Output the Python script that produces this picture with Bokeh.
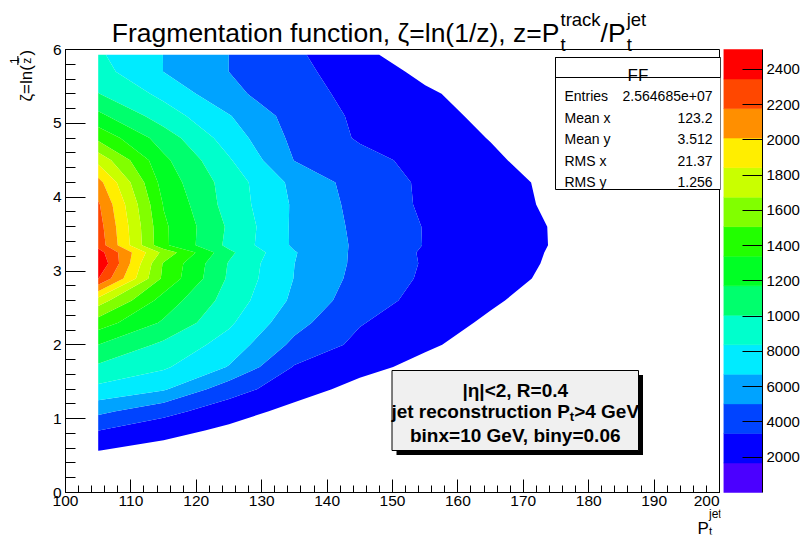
import math
import numpy as np
from bokeh.plotting import figure
from bokeh.layouts import row
from bokeh.models import (Label, BoxAnnotation, Range1d, SingleIntervalTicker, FixedTicker,
                          CustomLabelingPolicy)
from bokeh.embed import file_html
from bokeh.resources import INLINE

# ---------------- data ----------------
pt_centers = [105, 115, 125, 135, 145, 155, 165, 175, 185]
zeta_rows = [0.30, 0.57, 0.84, 1.10, 1.40, 1.70, 2.00, 2.30, 2.60, 2.90, 3.10,
             3.25, 3.35, 3.60, 3.90, 4.20, 4.50, 4.80, 5.10, 5.40, 5.70, 5.93]
ff_pt105 = [400, 1700, 3360, 5440, 7950, 9770, 11725, 14240, 17590, 23500, 25000,
            24200, 22800, 22500, 22000, 20700, 17900, 14650, 12150, 10100, 9000, 8600]
ff_pt115 = [300, 1000, 2320, 3880, 6880, 8600, 9700, 11500, 12700, 14700, 14900,
            16260, 13740, 13700, 13300, 12700, 12100, 10930, 9210, 7930, 6680, 6680]
ff_pt125 = [200, 600, 1300, 2460, 4060, 6610, 7680, 8650, 9350, 9790, 9930,
            10400, 9630, 9800, 9360, 9290, 8550, 7600, 6800, 5440, 5020, 5020]
ff_pt135 = [100, 300, 700, 1170, 2400, 3230, 4630, 5590, 6350, 6650, 6710,
            6800, 6440, 6410, 6470, 6260, 4980, 4610, 4330, 3970, 3780, 3630]
ff_pt145 = [0, 100, 300, 600, 1130, 2200, 2930, 3450, 4100, 4480, 4620,
            4630, 4730, 4640, 4450, 4290, 3880, 3170, 3060, 2870, 2540, 2130]
ff_pt155 = [0, 0, 100, 200, 500, 1170, 1930, 2410, 2830, 3110, 3200,
            3150, 3280, 3270, 3100, 3090, 2860, 2400, 2200, 1910, 1300, 600]
ff_pt165 = [0, 0, 0, 0, 100, 500, 950, 1420, 1880, 2230, 2330,
            2340, 2430, 2420, 2260, 2220, 1920, 1620, 1320, 970, 500, 200]
ff_pt175 = [0, 0, 0, 0, 0, 100, 300, 600, 950, 1350, 1470,
            1530, 1570, 1560, 1420, 1340, 980, 800, 500, 300, 100, 0]
ff_pt185 = [0, 0, 0, 0, 0, 0, 0, 100, 200, 500, 600,
            600, 650, 650, 550, 500, 300, 200, 100, 0, 0, 0]

contour_levels = [0, 1675, 3350, 5025, 6700, 8375, 10050, 11725, 13400, 15075,
                  16750, 18425, 20100, 21775, 23450, 25125]
band_colors = ["#4b00ff", "#0300ff", "#0044ff", "#00a3ff", "#00ebff", "#00ffcc",
               "#00ff6d", "#00ff25", "#22ff00", "#81ff00", "#c9ff00", "#ffee00",
               "#ff8f00", "#ff4700", "#ff0000"]
cbar_ticks = [2000, 4000, 6000, 8000, 10000, 12000, 14000, 16000, 18000, 20000, 22000, 24000]
cbar_tick_labels = ["2000", "4000", "6000", "8000", "1000", "1200", "1400", "1600",
                    "1800", "2000", "2200", "2400"]
x_tick_values = [100, 110, 120, 130, 140, 150, 160, 170, 180, 190, 200]
y_tick_values = [0, 1, 2, 3, 4, 5, 6]
stat_names = ["Entries", "Mean x", "Mean y", "RMS x", "RMS y"]
stat_values = ["2.564685e+07", "123.2", "3.512", "21.37", "1.256"]

FONT = "Liberation Sans"
TICK_FS = 15.5

# ---------------- geometry (page pixels -> data) ----------------
FL, FR, FT, FB = 65.0, 719.0, 49.0, 492.0      # visible plot frame in page pixels
MW, MH, MB = 722, 536, 2                        # main canvas size and its border


def X(px):
    return 100.0 + (px - FL) * 100.0 / (FR - FL)


def Y(py):
    return (FB - py) * 6.0 / (FB - FT)


W_REG = {' ': 278, ',': 278, '(': 333, ')': 333, '/': 278, '=': 584, '1': 556, 'F': 611,
         'r': 333, 'a': 556, 'g': 556, 'm': 833, 'e': 556, 'n': 556, 't': 278, 'i': 222,
         'o': 556, 'f': 278, 'u': 556, 'c': 500, 'l': 222, 'z': 500, 'P': 667, 'k': 500,
         'j': 222, '\u03b6': 450}
W_BOLD = {'j': 278, 'e': 556, 't': 333, ' ': 278, 'r': 389, 'c': 556, 'o': 611, 'n': 611,
          's': 556, 'u': 611, 'i': 278, 'P': 667, '>': 584, '4': 556, 'G': 778, 'V': 667}


def tw(s, size, bold=False):
    tab = W_BOLD if bold else W_REG
    return sum(tab.get(c, 556) for c in s) * size / 1000.0


p = figure(width=MW, height=MH,
           x_range=Range1d(X(MB), X(MW - MB)), y_range=Range1d(Y(MH - MB), Y(MB)),
           min_border_left=MB, min_border_right=MB, min_border_top=MB, min_border_bottom=MB,
           output_backend="svg", toolbar_location=None)
p.grid.visible = False
p.outline_line_color = None
p.background_fill_color = "white"
p.border_fill_color = "white"

no_labels = CustomLabelingPolicy(code="return new Set();")
p.xaxis.ticker = SingleIntervalTicker(interval=10, num_minor_ticks=5)
p.yaxis.ticker = SingleIntervalTicker(interval=1, num_minor_ticks=5)
p.xaxis.fixed_location = 0
p.xaxis.bounds = (100, 200)
p.yaxis.fixed_location = 100
p.yaxis.bounds = (0, 6)
for ax in (p.xaxis[0], p.yaxis[0]):
    ax.axis_line_color = "black"
    ax.major_tick_line_color = "black"
    ax.minor_tick_line_color = "black"
    ax.major_tick_out = 0
    ax.minor_tick_out = 0
    ax.major_label_policy = no_labels
    ax.major_label_text_font_size = "1px"
    ax.major_label_standoff = 0
p.xaxis.major_tick_in = 13
p.xaxis.minor_tick_in = 7
p.yaxis.major_tick_in = 20
p.yaxis.minor_tick_in = 10

# ---------------- filled contours ----------------
Z = np.array([ff_pt105, ff_pt115, ff_pt125, ff_pt135, ff_pt145, ff_pt155,
              ff_pt165, ff_pt175, ff_pt185], dtype=float).T
cr = p.contour(x=pt_centers, y=zeta_rows, z=Z, levels=contour_levels[1:],
               fill_color=band_colors[1:])
try:
    g = cr.fill_renderer.glyph
    g.line_color = g.fill_color
    g.line_width = 0.8
except Exception:
    pass

# frame box
p.add_layout(BoxAnnotation(left=100, right=200, bottom=0, top=6, fill_alpha=0.0,
                           line_color="black", line_alpha=1.0, line_width=1))


def put(px, py, text, size, align="left", baseline="alphabetic", bold=False, angle=0.0):
    p.add_layout(Label(x=X(px), y=Y(py), text=text, text_font=FONT,
                       text_font_size=f"{size}px", text_align=align,
                       text_baseline=baseline, angle=angle, text_color="black",
                       text_font_style="bold" if bold else "normal"))


def put_data(xd, yd, text, size, align, baseline):
    p.add_layout(Label(x=xd, y=yd, text=text, text_font=FONT, text_font_size=f"{size}px",
                       text_align=align, text_baseline=baseline, text_color="black"))


# tick labels
for v in x_tick_values:
    put_data(v, Y(495), str(v), TICK_FS,
             "right" if v == x_tick_values[-1] else "center", "top")
for v in y_tick_values:
    put_data(X(61), v, str(v), TICK_FS, "right", "middle")

# ---------------- title ----------------
TS, SS = 26.5, 18.5
xp = 559
put(xp, 32, "Fragmentation function, \u03b6=ln(1/z), z=P", TS, align="right")
put(xp + 1, 19, "track", SS)
put(xp + 1, 44, "t", SS)
x2 = xp + 1 + tw("track", SS)
put(x2, 32, "/P", TS)
x3 = x2 + tw("/P", TS) + 1
put(x3, 19, "jet", SS)
put(x3, 44, "t", SS)

# ---------------- axis titles ----------------
put(697, 527.5, "P", 17)
put(708.5, 513.5, "jet", 12)
put(708.5, 530.5, "t", 11.5)

A = math.pi / 2
put(25.5, 101, "\u03b6=ln(", 17, angle=A)
put(14.0, 63.5, "1", 12, angle=A)
put(26.0, 63.2, "z", 12, angle=A)
p.add_layout(BoxAnnotation(left=X(16.8), right=X(17.9), top=Y(55.5), bottom=Y(64.5),
                           fill_color="black", fill_alpha=1.0, line_color=None))
put(25.5, 55.0, ")", 17, angle=A)

# ---------------- stats box ----------------
p.add_layout(BoxAnnotation(left=X(555), right=X(720), top=Y(57), bottom=Y(189),
                           fill_color="white", fill_alpha=1.0, line_color="black",
                           line_alpha=1.0, line_width=1))
p.add_layout(BoxAnnotation(left=X(555), right=X(720), top=Y(57), bottom=Y(77),
                           fill_alpha=0.0, line_color="black", line_alpha=1.0, line_width=1))
put(637.5, 74.5, "FF", 17, align="center")
for i, (nm, vl) in enumerate(zip(stat_names, stat_values)):
    yb = 95.5 + i * 21.5
    put(564, yb, nm, 14)
    put(712, yb, vl, 14, align="right")

# ---------------- text box ----------------
p.add_layout(BoxAnnotation(left=X(396), right=X(642.5), top=Y(374.5), bottom=Y(454.5),
                           fill_color="black", fill_alpha=1.0, line_color=None))
p.add_layout(BoxAnnotation(left=X(391.5), right=X(638), top=Y(370), bottom=Y(450),
                           fill_color="#f0f0f0", fill_alpha=1.0, line_color="black",
                           line_alpha=1.0, line_width=1))
BS, BSUB = 19, 13
cx = (391.5 + 638) / 2
put(cx, 389.5, "|\u03b7|<2, R=0.4", BS, align="center", bold=True)
a_txt, s_txt, b_txt = "jet reconstruction P", "t", ">4 GeV"
total = tw(a_txt, BS, True) + tw(s_txt, BSUB, True) + tw(b_txt, BS, True)
x0 = cx - total / 2
put(x0, 411, a_txt, BS, bold=True)
x1 = x0 + tw(a_txt, BS, True)
put(x1, 416, s_txt, BSUB, bold=True)
put(x1 + tw(s_txt, BSUB, True), 411, b_txt, BS, bold=True)
put(cx, 435, "binx=10 GeV, biny=0.06", BS, align="center", bold=True)

# ---------------- colour bar ----------------
zlo, zhi = contour_levels[0], contour_levels[-1]
zpp = (zhi - zlo) / (FB - FT)          # z units per pixel
cb = figure(width=84, height=MH, x_range=Range1d(0, 1),
            y_range=Range1d(zlo - (MH - MB - FB) * zpp, zhi + (FT - MB) * zpp),
            min_border_left=1, min_border_right=44, min_border_top=MB,
            min_border_bottom=MB,
            x_axis_location=None, y_axis_location="right",
            output_backend="svg", toolbar_location=None)
cb.grid.visible = False
cb.outline_line_color = None
cb.background_fill_color = "white"
cb.border_fill_color = "white"
cb.quad(left=0, right=1, bottom=contour_levels[:-1], top=contour_levels[1:],
        fill_color=band_colors, line_color=band_colors, line_width=0.5)
yax = cb.yaxis[0]
yax.ticker = FixedTicker(ticks=cbar_ticks, minor_ticks=[])
yax.bounds = (zlo, zhi)
yax.major_label_overrides = dict(zip(cbar_ticks, cbar_tick_labels))
yax.major_tick_in = 20
yax.major_tick_out = 0
yax.minor_tick_in = 0
yax.minor_tick_out = 0
yax.axis_line_color = "black"
yax.major_tick_line_color = "black"
yax.major_label_text_font = FONT
yax.major_label_text_font_size = "15px"
yax.major_label_text_color = "black"
yax.major_label_standoff = 4

layout = row(p, cb)
open("out.html", "w").write(file_html(layout, INLINE, title="FF"))
